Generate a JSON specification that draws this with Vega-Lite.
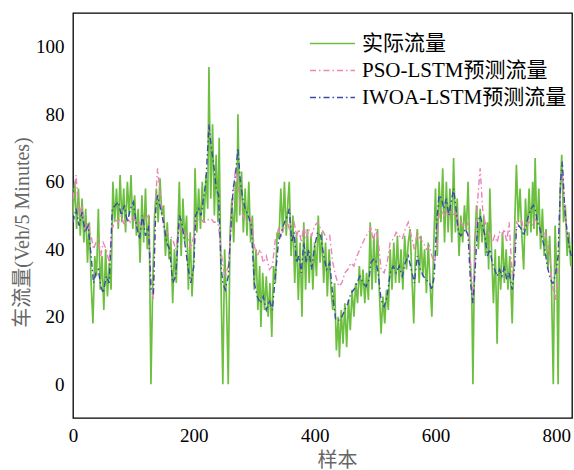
{
  "$schema": "https://vega.github.io/schema/vega-lite/v6.json",
  "width": 499,
  "height": 405,
  "autosize": {"type": "none"},
  "padding": {"left": 73, "top": 13, "right": 2, "bottom": 52},
  "background": "white",
  "config": {
    "view": {"stroke": "#000", "strokeWidth": 1.3},
    "axis": {"grid": false, "domain": false, "ticks": false, "labelFont": "Liberation Serif", "labelFontSize": 19, "labelColor": "#000", "titleFont": "Liberation Serif, Noto Sans CJK SC", "titleFontSize": 20, "titleFontWeight": "normal", "titleColor": "#666"}
  },
  "encoding": {
    "x": {"field": "x", "type": "quantitative", "scale": {"domain": [0, 826], "nice": false, "zero": false},
      "axis": {"values": [0, 200, 400, 600, 800], "labelFont": "Liberation Serif", "labelFlush": false, "labelPadding": 8, "title": "样本", "titleX": 264, "titleY": 42, "titleBaseline": "middle"}},
    "y": {"field": "value", "type": "quantitative", "scale": {"domain": [-10, 110], "nice": false},
      "axis": {"values": [0, 20, 40, 60, 80, 100], "labelFont": "Liberation Serif", "labelPadding": 9, "title": "车流量(Veh/5 Minutes)", "titleX": -51, "titleY": 219, "titleAngle": -90, "titleAlign": "center", "titleBaseline": "middle"}},
    "color": {"field": "series", "type": "nominal",
      "scale": {"domain": ["a", "p", "w"], "range": ["#6cbf3f", "#ee82b9", "#3a4aa8"]},
      "legend": {"title": null, "orient": "none", "legendX": 249, "legendY": 20, "labelFont": "Liberation Serif, Noto Sans CJK SC", "labelFontSize": 21, "labelColor": "#000", "labelLimit": 400, "symbolType": "M-3,0H3", "symbolSize": 225, "symbolStrokeWidth": 1.5, "labelOffset": 19, "rowPadding": 5,
        "labelExpr": "datum.value == 'a' ? '实际流量' : datum.value == 'p' ? 'PSO-LSTM预测流量' : 'IWOA-LSTM预测流量'"}},
    "strokeDash": {"field": "series", "type": "nominal",
      "scale": {"domain": ["a", "p", "w"], "range": [[1, 0], [6, 3, 1.5, 3], [6, 3, 1.5, 3]]},
      "legend": {"title": null, "orient": "none", "legendX": 249, "legendY": 20, "labelFont": "Liberation Serif, Noto Sans CJK SC", "labelFontSize": 21, "labelColor": "#000", "labelLimit": 400, "symbolType": "M-3,0H3", "symbolSize": 225, "symbolStrokeWidth": 1.5, "labelOffset": 19, "rowPadding": 5,
        "labelExpr": "datum.value == 'a' ? '实际流量' : datum.value == 'p' ? 'PSO-LSTM预测流量' : 'IWOA-LSTM预测流量'"}}
  },
  "layer": [
    {
      "data": {"values": [
        {"x":0,"a":50},{"x":3,"a":60},{"x":6,"a":46},{"x":9,"a":58},{"x":12,"a":44},{"x":15,"a":55},{"x":18,"a":42},{"x":21,"a":52},
        {"x":24,"a":36},{"x":27,"a":48},{"x":30,"a":30},{"x":33,"a":18},{"x":36,"a":38},{"x":39,"a":32},{"x":42,"a":52},{"x":45,"a":28},
        {"x":48,"a":38},{"x":51,"a":22},{"x":54,"a":40},{"x":57,"a":26},{"x":60,"a":36},{"x":63,"a":28},{"x":66,"a":60},{"x":69,"a":48},
        {"x":72,"a":58},{"x":75,"a":46},{"x":78,"a":62},{"x":81,"a":48},{"x":84,"a":58},{"x":87,"a":45},{"x":90,"a":60},{"x":93,"a":50},
        {"x":96,"a":62},{"x":99,"a":46},{"x":102,"a":56},{"x":105,"a":44},{"x":108,"a":52},{"x":111,"a":36},{"x":114,"a":56},{"x":117,"a":42},
        {"x":120,"a":58},{"x":123,"a":40},{"x":126,"a":50},{"x":129,"a":0},{"x":132,"a":30},{"x":135,"a":50},{"x":138,"a":58},{"x":141,"a":48},
        {"x":144,"a":61},{"x":147,"a":50},{"x":150,"a":53},{"x":153,"a":38},{"x":156,"a":48},{"x":159,"a":37},{"x":162,"a":43},{"x":165,"a":24},
        {"x":168,"a":40},{"x":171,"a":30},{"x":174,"a":48},{"x":176,"a":60},{"x":179,"a":38},{"x":182,"a":55},{"x":185,"a":42},{"x":188,"a":50},
        {"x":191,"a":28},{"x":194,"a":45},{"x":197,"a":26},{"x":200,"a":38},{"x":202,"a":64},{"x":205,"a":45},{"x":208,"a":58},{"x":211,"a":46},
        {"x":214,"a":60},{"x":217,"a":48},{"x":220,"a":62},{"x":223,"a":52},{"x":225,"a":94},{"x":228,"a":55},{"x":231,"a":77},{"x":234,"a":50},
        {"x":237,"a":68},{"x":240,"a":48},{"x":242,"a":73},{"x":245,"a":30},{"x":248,"a":0},{"x":251,"a":40},{"x":254,"a":25},{"x":257,"a":0},
        {"x":260,"a":45},{"x":263,"a":55},{"x":266,"a":42},{"x":269,"a":60},{"x":271,"a":48},{"x":273,"a":80},{"x":276,"a":50},{"x":279,"a":63},
        {"x":282,"a":45},{"x":285,"a":58},{"x":288,"a":44},{"x":291,"a":60},{"x":294,"a":42},{"x":297,"a":50},{"x":300,"a":28},{"x":303,"a":40},
        {"x":306,"a":22},{"x":309,"a":35},{"x":311,"a":17},{"x":314,"a":33},{"x":317,"a":22},{"x":320,"a":32},{"x":323,"a":20},{"x":326,"a":30},
        {"x":329,"a":14},{"x":332,"a":35},{"x":335,"a":30},{"x":338,"a":45},{"x":341,"a":43},{"x":344,"a":58},{"x":347,"a":45},{"x":350,"a":60},
        {"x":353,"a":44},{"x":356,"a":55},{"x":358,"a":60},{"x":361,"a":38},{"x":364,"a":50},{"x":367,"a":30},{"x":370,"a":45},{"x":373,"a":25},
        {"x":376,"a":42},{"x":379,"a":20},{"x":382,"a":48},{"x":385,"a":28},{"x":388,"a":46},{"x":391,"a":30},{"x":394,"a":44},{"x":397,"a":28},
        {"x":400,"a":42},{"x":403,"a":32},{"x":406,"a":50},{"x":409,"a":36},{"x":412,"a":45},{"x":415,"a":30},{"x":418,"a":42},{"x":421,"a":26},
        {"x":424,"a":40},{"x":427,"a":28},{"x":430,"a":22},{"x":433,"a":30},{"x":436,"a":10},{"x":439,"a":20},{"x":441,"a":8},{"x":444,"a":22},
        {"x":447,"a":12},{"x":450,"a":24},{"x":453,"a":11},{"x":456,"a":25},{"x":459,"a":16},{"x":462,"a":28},{"x":465,"a":20},{"x":468,"a":30},
        {"x":471,"a":24},{"x":474,"a":35},{"x":477,"a":26},{"x":480,"a":34},{"x":483,"a":24},{"x":486,"a":33},{"x":489,"a":25},{"x":492,"a":48},
        {"x":495,"a":28},{"x":498,"a":44},{"x":501,"a":30},{"x":504,"a":46},{"x":507,"a":28},{"x":510,"a":15},{"x":513,"a":26},{"x":516,"a":18},
        {"x":519,"a":28},{"x":522,"a":22},{"x":525,"a":40},{"x":528,"a":28},{"x":531,"a":42},{"x":534,"a":30},{"x":537,"a":44},{"x":540,"a":30},
        {"x":543,"a":40},{"x":546,"a":28},{"x":549,"a":44},{"x":552,"a":34},{"x":555,"a":42},{"x":558,"a":46},{"x":561,"a":32},{"x":564,"a":18},
        {"x":567,"a":40},{"x":570,"a":46},{"x":573,"a":30},{"x":576,"a":44},{"x":579,"a":32},{"x":582,"a":40},{"x":585,"a":27},{"x":588,"a":42},
        {"x":591,"a":30},{"x":594,"a":20},{"x":597,"a":40},{"x":600,"a":58},{"x":603,"a":38},{"x":606,"a":60},{"x":609,"a":48},{"x":612,"a":64},
        {"x":615,"a":42},{"x":618,"a":60},{"x":621,"a":45},{"x":624,"a":58},{"x":627,"a":42},{"x":630,"a":67},{"x":633,"a":45},{"x":636,"a":55},
        {"x":639,"a":38},{"x":642,"a":50},{"x":645,"a":42},{"x":648,"a":53},{"x":651,"a":45},{"x":654,"a":60},{"x":657,"a":38},{"x":660,"a":28},
        {"x":662,"a":0},{"x":665,"a":42},{"x":668,"a":53},{"x":671,"a":40},{"x":674,"a":52},{"x":677,"a":42},{"x":680,"a":50},{"x":683,"a":38},
        {"x":686,"a":48},{"x":688,"a":34},{"x":690,"a":58},{"x":693,"a":38},{"x":696,"a":24},{"x":699,"a":40},{"x":702,"a":12},{"x":705,"a":38},
        {"x":708,"a":28},{"x":711,"a":45},{"x":714,"a":30},{"x":717,"a":40},{"x":720,"a":28},{"x":723,"a":38},{"x":727,"a":18},{"x":730,"a":40},
        {"x":734,"a":65},{"x":737,"a":48},{"x":740,"a":58},{"x":743,"a":44},{"x":746,"a":34},{"x":749,"a":55},{"x":752,"a":44},{"x":755,"a":58},
        {"x":758,"a":45},{"x":761,"a":60},{"x":763,"a":46},{"x":765,"a":67},{"x":768,"a":44},{"x":771,"a":58},{"x":774,"a":40},{"x":777,"a":52},
        {"x":780,"a":38},{"x":783,"a":46},{"x":786,"a":34},{"x":789,"a":44},{"x":792,"a":30},{"x":795,"a":0},{"x":798,"a":47},{"x":801,"a":32},
        {"x":803,"a":0},{"x":806,"a":55},{"x":809,"a":68},{"x":812,"a":48},{"x":815,"a":53},{"x":818,"a":38},{"x":821,"a":45},{"x":824,"a":35},
        {"x":826,"a":42}
      ]},
      "transform": [{"fold": ["a"], "as": ["series", "value"]}],
      "mark": {"type": "line", "strokeWidth": 1.7, "clip": true}
    },
    {
      "data": {"values": [
        {"x":0,"p":55,"w":48},{"x":5,"p":62,"w":52},{"x":10,"p":50,"w":47},{"x":15,"p":53,"w":51},
        {"x":20,"p":46,"w":45},{"x":25,"p":48,"w":47},{"x":30,"p":44,"w":38},{"x":34,"p":40,"w":30},
        {"x":38,"p":42,"w":33},{"x":42,"p":43,"w":34},{"x":46,"p":38,"w":29},{"x":50,"p":42,"w":27},
        {"x":55,"p":40,"w":32},{"x":60,"p":36,"w":30},{"x":65,"p":46,"w":52},{"x":70,"p":49,"w":53},
        {"x":75,"p":48,"w":54},{"x":80,"p":50,"w":50},{"x":85,"p":47,"w":53},{"x":90,"p":49,"w":48},
        {"x":95,"p":48,"w":52},{"x":100,"p":50,"w":54},{"x":105,"p":47,"w":47},{"x":110,"p":48,"w":43},
        {"x":115,"p":47,"w":50},{"x":120,"p":49,"w":44},{"x":125,"p":50,"w":47},{"x":129,"p":30,"w":28},
        {"x":133,"p":25,"w":27},{"x":137,"p":55,"w":52},{"x":140,"p":64,"w":56},{"x":145,"p":55,"w":52},
        {"x":150,"p":46,"w":48},{"x":155,"p":45,"w":42},{"x":160,"p":44,"w":40},{"x":165,"p":43,"w":30},
        {"x":170,"p":40,"w":32},{"x":176,"p":47,"w":50},{"x":180,"p":46,"w":48},{"x":185,"p":45,"w":42},
        {"x":190,"p":44,"w":35},{"x":195,"p":40,"w":30},{"x":200,"p":44,"w":35},{"x":203,"p":48,"w":50},
        {"x":208,"p":49,"w":52},{"x":212,"p":49,"w":50},{"x":216,"p":48,"w":55},{"x":220,"p":48,"w":60},
        {"x":225,"p":49,"w":77},{"x":229,"p":49,"w":70},{"x":233,"p":48,"w":65},{"x":237,"p":48,"w":58},
        {"x":241,"p":47,"w":56},{"x":245,"p":40,"w":35},{"x":248,"p":35,"w":30},{"x":252,"p":32,"w":28},
        {"x":257,"p":35,"w":32},{"x":261,"p":45,"w":45},{"x":265,"p":56,"w":58},{"x":269,"p":64,"w":62},
        {"x":273,"p":60,"w":70},{"x":277,"p":52,"w":60},{"x":281,"p":50,"w":55},{"x":285,"p":49,"w":52},
        {"x":290,"p":48,"w":50},{"x":295,"p":49,"w":47},{"x":300,"p":41,"w":30},{"x":305,"p":38,"w":26},
        {"x":310,"p":40,"w":24},{"x":315,"p":36,"w":26},{"x":320,"p":38,"w":22},{"x":325,"p":34,"w":25},
        {"x":330,"p":35,"w":22},{"x":335,"p":43,"w":32},{"x":340,"p":46,"w":42},{"x":345,"p":44,"w":45},
        {"x":350,"p":47,"w":48},{"x":355,"p":48,"w":50},{"x":358,"p":46,"w":52},{"x":362,"p":47,"w":42},
        {"x":366,"p":48,"w":45},{"x":370,"p":44,"w":36},{"x":374,"p":46,"w":38},{"x":378,"p":42,"w":33},
        {"x":382,"p":47,"w":42},{"x":386,"p":43,"w":36},{"x":390,"p":46,"w":40},{"x":395,"p":44,"w":34},
        {"x":400,"p":47,"w":41},{"x":405,"p":48,"w":45},{"x":410,"p":46,"w":44},{"x":415,"p":45,"w":38},
        {"x":420,"p":43,"w":34},{"x":425,"p":44,"w":36},{"x":430,"p":36,"w":26},{"x":435,"p":32,"w":19},
        {"x":440,"p":29,"w":19},{"x":445,"p":30,"w":20},{"x":450,"p":33,"w":22},{"x":455,"p":34,"w":24},
        {"x":460,"p":36,"w":27},{"x":465,"p":35,"w":28},{"x":470,"p":38,"w":30},{"x":475,"p":40,"w":32},
        {"x":480,"p":42,"w":30},{"x":485,"p":44,"w":29},{"x":490,"p":45,"w":31},{"x":493,"p":47,"w":36},
        {"x":497,"p":42,"w":37},{"x":501,"p":46,"w":37},{"x":505,"p":43,"w":33},{"x":510,"p":34,"w":25},
        {"x":515,"p":33,"w":23},{"x":520,"p":36,"w":26},{"x":525,"p":42,"w":33},{"x":530,"p":43,"w":35},
        {"x":535,"p":45,"w":33},{"x":540,"p":44,"w":35},{"x":545,"p":43,"w":32},{"x":550,"p":46,"w":36},
        {"x":555,"p":48,"w":38},{"x":560,"p":44,"w":34},{"x":565,"p":40,"w":30},{"x":570,"p":45,"w":38},
        {"x":575,"p":43,"w":34},{"x":580,"p":42,"w":32},{"x":585,"p":40,"w":31},{"x":590,"p":41,"w":30},
        {"x":594,"p":38,"w":28},{"x":598,"p":36,"w":32},{"x":602,"p":40,"w":48},{"x":606,"p":50,"w":56},
        {"x":610,"p":52,"w":55},{"x":614,"p":50,"w":52},{"x":618,"p":52,"w":55},{"x":622,"p":50,"w":50},
        {"x":626,"p":51,"w":54},{"x":630,"p":50,"w":58},{"x":634,"p":52,"w":52},{"x":638,"p":47,"w":45},
        {"x":642,"p":48,"w":44},{"x":646,"p":47,"w":45},{"x":650,"p":46,"w":46},{"x":654,"p":48,"w":44},
        {"x":658,"p":36,"w":30},{"x":662,"p":26,"w":24},{"x":666,"p":40,"w":35},{"x":670,"p":55,"w":48},
        {"x":674,"p":64,"w":50},{"x":678,"p":52,"w":47},{"x":682,"p":48,"w":44},{"x":686,"p":46,"w":38},
        {"x":690,"p":44,"w":40},{"x":694,"p":42,"w":36},{"x":698,"p":44,"w":34},{"x":702,"p":42,"w":32},
        {"x":706,"p":45,"w":34},{"x":710,"p":44,"w":32},{"x":714,"p":46,"w":35},{"x":718,"p":42,"w":31},
        {"x":722,"p":48,"w":33},{"x":727,"p":32,"w":28},{"x":731,"p":38,"w":35},{"x":734,"p":48,"w":46},
        {"x":738,"p":47,"w":47},{"x":742,"p":49,"w":46},{"x":746,"p":46,"w":44},{"x":750,"p":47,"w":47},
        {"x":754,"p":48,"w":50},{"x":758,"p":48,"w":52},{"x":762,"p":47,"w":53},{"x":765,"p":49,"w":52},
        {"x":769,"p":48,"w":48},{"x":773,"p":46,"w":46},{"x":777,"p":44,"w":43},{"x":781,"p":45,"w":40},
        {"x":785,"p":42,"w":35},{"x":789,"p":38,"w":32},{"x":793,"p":30,"w":30},{"x":795,"p":28,"w":30},
        {"x":799,"p":25,"w":33},{"x":803,"p":35,"w":38},{"x":807,"p":60,"w":60},{"x":810,"p":63,"w":66},
        {"x":814,"p":52,"w":52},{"x":818,"p":45,"w":45},{"x":822,"p":42,"w":40},{"x":825,"p":42,"w":38}
      ]},
      "transform": [{"fold": ["p", "w"], "as": ["series", "value"]}],
      "mark": {"type": "line", "strokeWidth": 1.4, "clip": true}
    }
  ]
}
